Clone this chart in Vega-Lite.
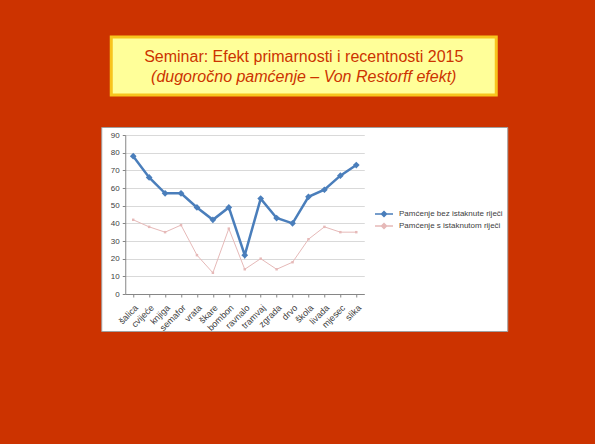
{
  "$schema": "https://vega.github.io/schema/vega-lite/v6.json",
  "background": "#CC3300",
  "padding": {"left": 100, "top": 35, "right": 88, "bottom": 113},
  "vconcat": [
    {
      "width": 385,
      "height": 58,
      "view": {"fill": "#FFFF99", "stroke": "#F8C51C", "strokeWidth": 3},
      "data": {"values": [
        {"line": 1, "text": "Seminar: Efekt primarnosti i recentnosti 2015"},
        {"line": 2, "text": "(dugoročno pamćenje – Von Restorff efekt)"}
      ]},
      "encoding": {
        "y": {"field": "line", "type": "ordinal", "scale": {"range": [20, 40], "padding": 0}, "axis": null},
        "text": {"field": "text"}
      },
      "layer": [
        {"transform": [{"filter": "datum.line == 1"}],
         "mark": {"type": "text", "font": "Liberation Sans", "fontSize": 16, "color": "#CC3300", "baseline": "middle"}},
        {"transform": [{"filter": "datum.line == 2"}],
         "mark": {"type": "text", "font": "Liberation Sans", "fontSize": 16, "fontStyle": "italic", "color": "#CC3300", "baseline": "middle"}}
      ]
    },
    {
      "width": 406,
      "height": 204,
      "view": {"fill": "white", "stroke": "#a0a0a0", "strokeWidth": 1},
      "data": {"values": [
        {"word": "šalica", "series": "Pamćenje bez istaknute riječi", "value": 78},
        {"word": "cvijeće", "series": "Pamćenje bez istaknute riječi", "value": 66},
        {"word": "knjiga", "series": "Pamćenje bez istaknute riječi", "value": 57},
        {"word": "semafor", "series": "Pamćenje bez istaknute riječi", "value": 57},
        {"word": "vrata", "series": "Pamćenje bez istaknute riječi", "value": 49},
        {"word": "škare", "series": "Pamćenje bez istaknute riječi", "value": 42},
        {"word": "bombon", "series": "Pamćenje bez istaknute riječi", "value": 49},
        {"word": "ravnalo", "series": "Pamćenje bez istaknute riječi", "value": 22},
        {"word": "tramvaj", "series": "Pamćenje bez istaknute riječi", "value": 54},
        {"word": "zgrada", "series": "Pamćenje bez istaknute riječi", "value": 43},
        {"word": "drvo", "series": "Pamćenje bez istaknute riječi", "value": 40},
        {"word": "škola", "series": "Pamćenje bez istaknute riječi", "value": 55},
        {"word": "livada", "series": "Pamćenje bez istaknute riječi", "value": 59},
        {"word": "mjesec", "series": "Pamćenje bez istaknute riječi", "value": 67},
        {"word": "slika", "series": "Pamćenje bez istaknute riječi", "value": 73},
        {"word": "šalica", "series": "Pamćenje s istaknutom riječi", "value": 42},
        {"word": "cvijeće", "series": "Pamćenje s istaknutom riječi", "value": 38},
        {"word": "knjiga", "series": "Pamćenje s istaknutom riječi", "value": 35},
        {"word": "semafor", "series": "Pamćenje s istaknutom riječi", "value": 39},
        {"word": "vrata", "series": "Pamćenje s istaknutom riječi", "value": 22},
        {"word": "škare", "series": "Pamćenje s istaknutom riječi", "value": 12},
        {"word": "bombon", "series": "Pamćenje s istaknutom riječi", "value": 37},
        {"word": "ravnalo", "series": "Pamćenje s istaknutom riječi", "value": 14},
        {"word": "tramvaj", "series": "Pamćenje s istaknutom riječi", "value": 20},
        {"word": "zgrada", "series": "Pamćenje s istaknutom riječi", "value": 14},
        {"word": "drvo", "series": "Pamćenje s istaknutom riječi", "value": 18},
        {"word": "škola", "series": "Pamćenje s istaknutom riječi", "value": 31},
        {"word": "livada", "series": "Pamćenje s istaknutom riječi", "value": 38},
        {"word": "mjesec", "series": "Pamćenje s istaknutom riječi", "value": 35},
        {"word": "slika", "series": "Pamćenje s istaknutom riječi", "value": 35}
      ]},
      "encoding": {
        "x": {
          "field": "word", "type": "ordinal",
          "sort": ["šalica", "cvijeće", "knjiga", "semafor", "vrata", "škare", "bombon", "ravnalo", "tramvaj", "zgrada", "drvo", "škola", "livada", "mjesec", "slika"],
          "scale": {"range": [24, 263], "padding": 0.5},
          "axis": {"title": null, "offset": -37, "labelAngle": -45, "labelFont": "Liberation Sans", "labelFontSize": 9, "labelColor": "#404040", "labelPadding": 6, "domainColor": "#868686", "tickColor": "#868686", "tickSize": 3, "grid": false}
        },
        "y": {
          "field": "value", "type": "quantitative",
          "scale": {"domain": [0, 90], "range": [167, 8], "nice": false},
          "axis": {"title": null, "offset": -24, "values": [0, 10, 20, 30, 40, 50, 60, 70, 80, 90], "labelFont": "Liberation Sans", "labelFontSize": 8, "labelColor": "#404040", "labelPadding": 3, "domainColor": "#868686", "tickColor": "#868686", "tickSize": 3, "grid": true, "gridColor": "#D9D9D9"}
        },
        "color": {
          "field": "series", "type": "nominal",
          "scale": {"domain": ["Pamćenje bez istaknute riječi", "Pamćenje s istaknutom riječi"], "range": ["#4A7EBB", "#E6B9B8"]},
          "legend": {"title": null, "orient": "none", "legendX": 277, "legendY": 171, "padding": 0, "labelFont": "Liberation Sans", "labelFontSize": 8, "labelColor": "#404040", "symbolType": "M-1.8,0L1.8,0M0,-0.5L0.5,0L0,0.5L-0.5,0Z", "symbolSize": 100, "symbolStrokeWidth": 1.5, "labelOffset": 9, "rowPadding": 0}
        }
      },
      "layer": [
        {"transform": [{"filter": "datum.series == 'Pamćenje s istaknutom riječi'"}],
         "mark": {"type": "line", "strokeWidth": 1}},
        {"transform": [{"filter": "datum.series == 'Pamćenje s istaknutom riječi'"}],
         "mark": {"type": "point", "shape": "square", "filled": true, "size": 6, "opacity": 1}},
        {"transform": [{"filter": "datum.series == 'Pamćenje bez istaknute riječi'"}],
         "mark": {"type": "line", "strokeWidth": 2.5}},
        {"transform": [{"filter": "datum.series == 'Pamćenje bez istaknute riječi'"}],
         "mark": {"type": "point", "shape": "diamond", "filled": true, "size": 45, "opacity": 1}}
      ]
    }
  ],
  "center": true,
  "spacing": 29
}
